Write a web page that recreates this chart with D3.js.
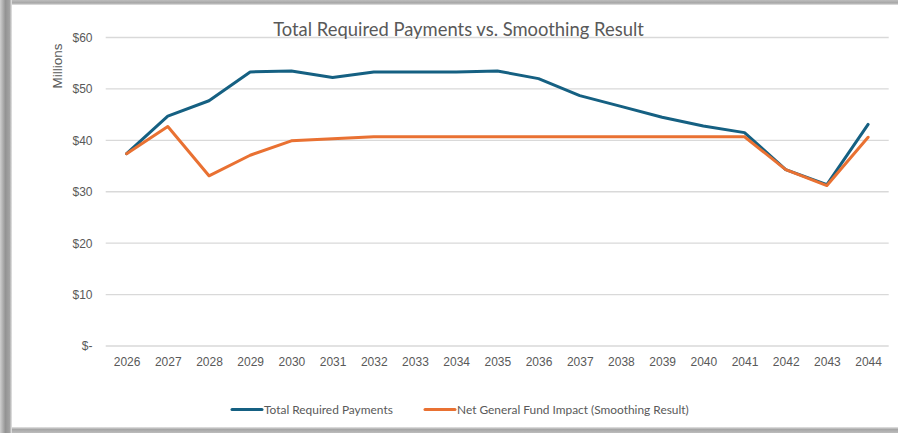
<!DOCTYPE html>
<html><head><meta charset="utf-8">
<script src="https://cdn.jsdelivr.net/npm/d3@7"></script>
<style>html,body{margin:0;padding:0;background:#fff;overflow:hidden}svg{display:block}</style>
</head><body>
<script>
const years = ["2026","2027","2028","2029","2030","2031","2032","2033","2034","2035","2036","2037","2038","2039","2040","2041","2042","2043","2044"];
const totalRequired = [37.4,44.7,47.7,53.3,53.5,52.2,53.3,53.3,53.3,53.5,52.0,48.7,46.6,44.5,42.8,41.5,34.3,31.4,43.1];
const smoothing = [37.4,42.7,33.1,37.1,39.9,40.3,40.7,40.7,40.7,40.7,40.7,40.7,40.7,40.7,40.7,40.7,34.3,31.2,40.6];
const yTicks = [0,10,20,30,40,50,60];
const seriesNames = ["Total Required Payments","Net General Fund Impact (Smoothing Result)"];
const seriesColors = ["#156082","#E97132"];
const title = "Total Required Payments vs. Smoothing Result";

const W=898,H=433;
const svg=d3.select("body").append("svg").attr("width",W).attr("height",H);
svg.append("rect").attr("width",W).attr("height",H).attr("fill","#fff");

// frame (gray shadow on left, top, bottom)
const defs=svg.append("defs");
const gl=defs.append("linearGradient").attr("id","gl").attr("x1","0").attr("x2","1").attr("y1","0").attr("y2","0");
gl.append("stop").attr("offset","0").attr("stop-color","#d0d0d0");
gl.append("stop").attr("offset","0.45").attr("stop-color","#939393");
gl.append("stop").attr("offset","0.8").attr("stop-color","#a3a3a3");
gl.append("stop").attr("offset","1").attr("stop-color","#e8e8e8");
const gt=defs.append("linearGradient").attr("id","gt").attr("x1","0").attr("x2","0").attr("y1","0").attr("y2","1");
gt.append("stop").attr("offset","0").attr("stop-color","#bdbdbd");
gt.append("stop").attr("offset","0.6").attr("stop-color","#a6a6a6");
gt.append("stop").attr("offset","1").attr("stop-color","#e6e6e6");
const gb=defs.append("linearGradient").attr("id","gb").attr("x1","0").attr("x2","0").attr("y1","0").attr("y2","1");
gb.append("stop").attr("offset","0").attr("stop-color","#e6e6e6");
gb.append("stop").attr("offset","0.4").attr("stop-color","#a6a6a6");
gb.append("stop").attr("offset","1").attr("stop-color","#bdbdbd");
svg.append("rect").attr("x",0).attr("y",0).attr("width",W).attr("height",5).attr("fill","url(#gt)");
svg.append("rect").attr("x",0).attr("y",427).attr("width",W).attr("height",6).attr("fill","url(#gb)");
svg.append("rect").attr("x",0).attr("y",0).attr("width",12).attr("height",H).attr("fill","url(#gl)");

const x=d3.scalePoint().domain(years).range([126.6,868.1]);
const y=d3.scaleLinear().domain([0,60]).range([346,37.5]);
const gridX0=105.7,gridX1=888.7;

// gridlines
svg.append("g").selectAll("line").data(yTicks).join("line")
  .attr("x1",gridX0).attr("x2",gridX1)
  .attr("y1",d=>y(d)).attr("y2",d=>y(d))
  .attr("stroke","#d9d9d9").attr("stroke-width",1.3);

// y axis labels
const yAxis=d3.axisLeft(y).tickValues(yTicks).tickSize(0).tickPadding(0)
  .tickFormat(d=>d===0?"$-":"$"+d);
const yg=svg.append("g").attr("transform",`translate(92.5,0)`).call(yAxis);
yg.select(".domain").remove();
yg.selectAll("text").attr("font-family","Liberation Sans, Arial, sans-serif").attr("font-size",12).attr("fill","#595959");

// x axis labels
const xAxis=d3.axisBottom(x).tickSize(0).tickPadding(0);
const xg=svg.append("g").attr("transform",`translate(0,357)`).call(xAxis);
xg.select(".domain").remove();
xg.selectAll("text").attr("font-family","Liberation Sans, Arial, sans-serif").attr("font-size",12).attr("fill","#595959");

function fit(t,w){const n=t.node();const l=n.getComputedTextLength();const fs=parseFloat(t.attr("font-size"));t.attr("font-size",fs*w/l);}

// Millions
const mt=svg.append("text").attr("transform","translate(62,66) rotate(-90)").attr("text-anchor","middle")
  .attr("font-family","Liberation Sans, Arial, sans-serif").attr("font-size",13).attr("fill","#595959").text("Millions");
fit(mt,45);

// lines
const line=d3.line().x((d,i)=>x(years[i])).y(d=>y(d)).curve(d3.curveLinear);
[totalRequired,smoothing].forEach((s,k)=>{
  svg.append("path").datum(s).attr("d",line).attr("fill","none")
    .attr("stroke",seriesColors[k]).attr("stroke-width",3).attr("stroke-linejoin","round").attr("stroke-linecap","round");
});

// title
const tt=svg.append("text").attr("x",458.5).attr("y",35.5).attr("text-anchor","middle")
  .attr("font-family","Lato, sans-serif").attr("font-size",19).attr("fill","#595959").text(title);
fit(tt,371);

// legend
const lx=[[232,262,264,129],[425,455,457,232]];
lx.forEach((p,k)=>{
  svg.append("line").attr("x1",p[0]).attr("x2",p[1]).attr("y1",409.5).attr("y2",409.5)
    .attr("stroke",seriesColors[k]).attr("stroke-width",3).attr("stroke-linecap","round");
  const t=svg.append("text").attr("x",p[2]).attr("y",413.5).attr("font-family","Lato, sans-serif")
    .attr("font-size",12).attr("fill","#595959").text(seriesNames[k]);
  fit(t,p[3]);
});
</script>
</body></html>
